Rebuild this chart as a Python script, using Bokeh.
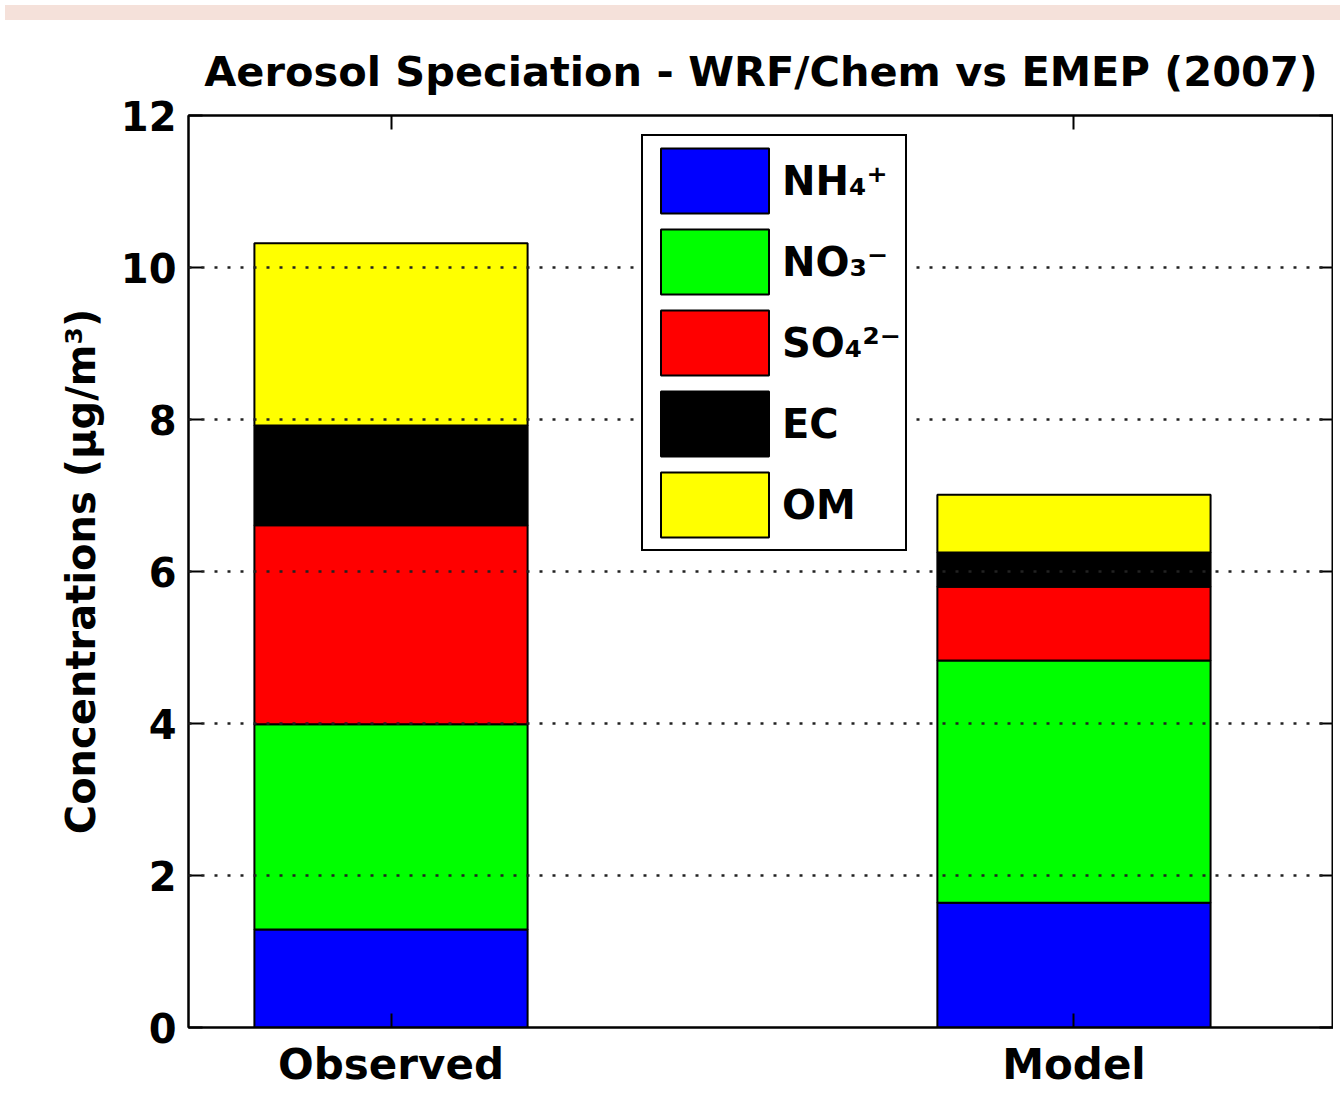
from bokeh.plotting import figure
from bokeh.models import (ColumnDataSource, FixedTicker, LinearAxis, Range1d, Div)
from bokeh.layouts import column
from bokeh.embed import file_html
from bokeh.resources import INLINE

# ---- data ----
categories = ["Observed", "Model"]
species = ["NH₄⁺", "NO₃⁻", "SO₄²⁻", "EC", "OM"]
nh4 = [1.29, 1.64]
no3 = [2.70, 3.19]
so4 = [2.62, 0.97]
ec = [1.31, 0.45]
om = [2.40, 0.76]
colors = ["#0000ff", "#00ff00", "#ff0000", "#000000", "#ffff00"]
y_ticks = [0, 2, 4, 6, 8, 10, 12]

xpos = [i + 1 for i in range(len(categories))]
source = ColumnDataSource(dict(x=xpos, nh4=nh4, no3=no3, so4=so4, ec=ec, om=om))
stackers = ["nh4", "no3", "so4", "ec", "om"]

FONT = "DejaVu Sans"

p = figure(frame_width=1145, frame_height=912,
           x_range=Range1d(0.7035, 2.38), y_range=Range1d(0, 12),
           output_backend="svg", toolbar_location=None,
           min_border_left=188, min_border_right=0, min_border_top=90,
           min_border_bottom=76, background_fill_color="white",
           border_fill_color="white",
           title="Aerosol Speciation - WRF/Chem vs EMEP (2007)")

p.vbar_stack(stackers, x="x", width=0.4, source=source, fill_color=colors,
             line_color="black", line_width=2, legend_label=species)

# title
p.title.text_font = FONT
p.title.text_font_size = "41.5px"
p.title.text_font_style = "bold"
p.title.align = "center"
p.title.vertical_align = "top"
p.title.text_color = "black"
p.title.standoff = 36

# axes
p.xaxis.ticker = FixedTicker(ticks=xpos)
p.xaxis.major_label_overrides = {x: c for x, c in zip(xpos, categories)}
p.yaxis.ticker = FixedTicker(ticks=y_ticks)
p.yaxis.axis_label = "Concentrations (μg/m³)"
for ax in (p.xaxis[0], p.yaxis[0]):
    ax.major_label_text_font = FONT
    ax.major_label_text_font_size = "40px"
    ax.major_label_text_font_style = "bold"
    ax.major_label_text_color = "black"
    ax.axis_line_color = "black"
    ax.axis_line_width = 2
    ax.major_tick_in = 14
    ax.major_tick_out = 0
    ax.major_tick_line_width = 2
    ax.major_tick_line_color = "black"
    ax.minor_tick_line_color = None
p.xaxis.major_label_text_font_size = "42px"
p.xaxis.major_label_standoff = 12
p.yaxis.major_label_standoff = 12
p.yaxis.axis_label_text_font = FONT
p.yaxis.axis_label_text_font_size = "40px"
p.yaxis.axis_label_text_font_style = "bold"
p.yaxis.axis_label_text_color = "black"
p.yaxis.axis_label_standoff = 14

# mirrored top / right axes (ticks only, no labels drawn)
top = LinearAxis(ticker=FixedTicker(ticks=xpos))
right = LinearAxis(ticker=FixedTicker(ticks=y_ticks))
for ax in (top, right):
    ax.major_label_text_font_size = "1px"
    ax.major_label_text_color = None
    ax.major_label_standoff = 0
    ax.axis_line_color = "black"
    ax.axis_line_width = 2
    ax.major_tick_in = 14
    ax.major_tick_out = 0
    ax.major_tick_line_width = 2
    ax.major_tick_line_color = "black"
    ax.minor_tick_line_color = None
p.add_layout(top, "above")
p.add_layout(right, "right")

# grid
p.xgrid.grid_line_color = None
p.ygrid.ticker = FixedTicker(ticks=y_ticks[1:-1])
p.ygrid.grid_line_color = "#222222"
p.ygrid.grid_line_width = 2.5
p.ygrid.grid_line_dash = "3 10"
p.ygrid.level = "guide"
p.outline_line_color = "black"
p.outline_line_width = 2

# legend
lg = p.legend[0]
lg.location = (453, 476)
lg.glyph_width = 135
lg.glyph_height = 81
lg.spacing = 0
lg.padding = 4
lg.margin = 0
lg.label_standoff = 0
lg.label_text_font = FONT
lg.label_text_font_size = "40px"
lg.label_text_font_style = "bold"
lg.label_text_color = "black"
lg.border_line_color = "black"
lg.border_line_alpha = 1.0
lg.border_line_width = 2
lg.background_fill_alpha = 1.0

header = Div(text="", width=1335, height=15,
             styles={"background-color": "#f5e1da"})

layout = column(header, p, spacing=0)
open("out.html", "w").write(file_html(layout, INLINE))
